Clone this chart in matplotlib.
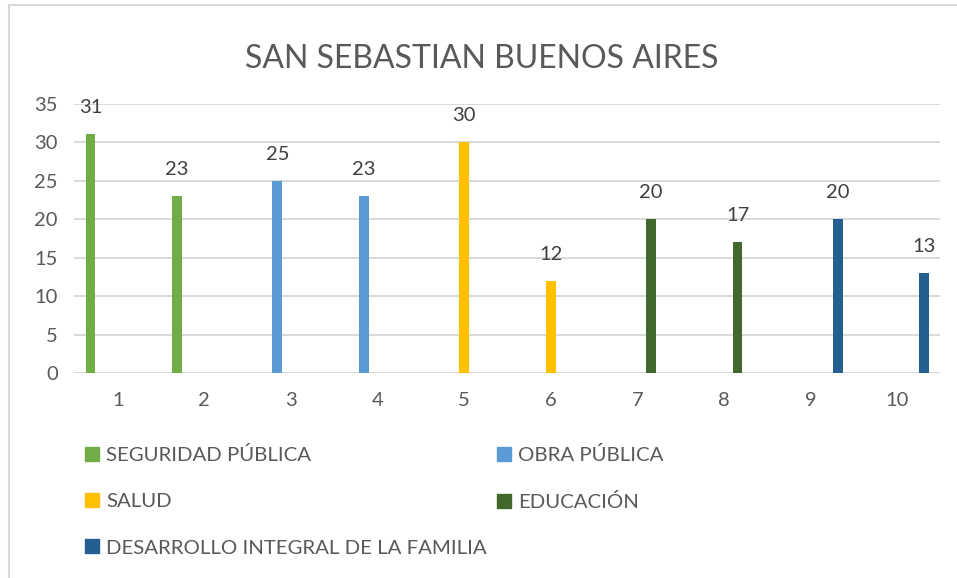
import numpy as np
import matplotlib
matplotlib.use("Agg")
import matplotlib.pyplot as plt
from matplotlib.lines import Line2D
from matplotlib.patches import Rectangle

plt.rcParams['font.family'] = ['Lato', 'DejaVu Sans']

# --- datos ---
categorias = [1, 2, 3, 4, 5, 6, 7, 8, 9, 10]
series = ["SEGURIDAD PÚBLICA", "OBRA PÚBLICA", "SALUD", "EDUCACIÓN",
          "DESARROLLO INTEGRAL DE LA FAMILIA"]
seguridad = [31, 23, None, None, None, None, None, None, None, None]
obra = [None, None, 25, 23, None, None, None, None, None, None]
salud = [None, None, None, None, 30, 12, None, None, None, None]
educacion = [None, None, None, None, None, None, 20, 17, None, None]
familia = [None, None, None, None, None, None, None, None, 20, 13]
colores = ["#70AD47", "#5B9BD5", "#FFC000", "#43682B", "#255E91"]

valores = [seguridad, obra, salud, educacion, familia]

W, H = 957, 578
fig = plt.figure(figsize=(W / 100, H / 100), dpi=100)
ax = fig.add_axes([74.4 / W, 205 / H, 866 / W, 269.4 / H])

x = np.array(categorias, dtype=float)
paso = 0.157
ancho = 0.115
for i, (vals, col) in enumerate(zip(valores, colores)):
    v = np.array([np.nan if a is None else a for a in vals], dtype=float)
    pos = x + (i - 2) * paso
    barras = ax.bar(pos, v, width=ancho, color=col, zorder=3)
    for b, val in zip(barras, v):
        if np.isnan(val):
            continue
        ax.annotate(f"{val:.0f}", (b.get_x() + b.get_width() / 2, val),
                    xytext=(0, 13), textcoords="offset points",
                    ha="center", va="bottom", fontsize=14.5, color="#404040")

ax.set_xlim(0.5, 10.5)
ax.set_ylim(0, 35)
ax.set_yticks(range(0, 36, 5))
ax.set_xticks(categorias)
ax.grid(axis="y", color="#D9D9D9", lw=1.4, zorder=0)
ax.set_axisbelow(True)
for s in ax.spines.values():
    s.set_visible(False)
ax.tick_params(axis="both", length=0, labelsize=14.5, labelcolor="#595959")
ax.tick_params(axis="y", pad=12)
ax.tick_params(axis="x", pad=14)

fig.text(482 / W, 1 - 59 / H, "SAN SEBASTIAN BUENOS AIRES", ha="center",
         va="center", fontsize=23, color="#595959")

# leyenda en dos columnas
def asa(c):
    return Line2D([], [], marker="s", ls="none", markersize=10,
                  markerfacecolor=c, markeredgecolor=c)

izq = [0, 2, 4]
der = [1, 3]
for idx, xpx in ((izq, 84), (der, 496)):
    leg = fig.legend([asa(colores[j]) for j in idx], [series[j] for j in idx],
                     loc="upper left", bbox_to_anchor=(xpx / W, 1 - 446 / H),
                     frameon=False, fontsize=14.7, borderpad=0, borderaxespad=0,
                     handlelength=0.8, handletextpad=0.3, labelspacing=1.42,
                     labelcolor="#595959")

fig.patches.append(Rectangle((8.5 / W, -0.1), 2, 1.1 - 5.5 / H + 0.0,
                             transform=fig.transFigure, fill=False,
                             ec="#D9D9D9", lw=1.5))

fig.savefig("out.png", dpi=100, facecolor="white")
